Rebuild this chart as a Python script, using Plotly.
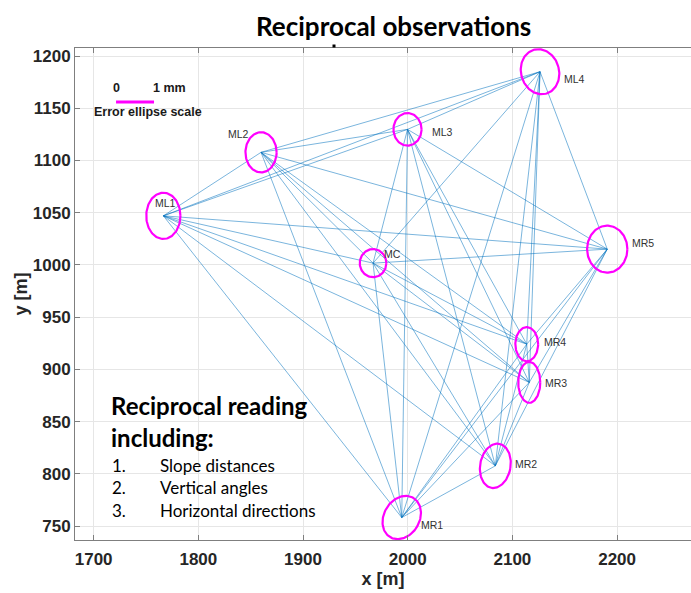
import numpy as np
import plotly.graph_objects as go

# Station coordinates [m]
STATIONS = ["ML1", "ML2", "ML3", "ML4", "MC", "MR5", "MR4", "MR3", "MR2", "MR1"]
EAST = [1766.6, 1859.9, 1999.8, 2126.4, 1966.9, 2190.6, 2113.7, 2116.1, 2083.7, 1994.3]
NORTH = [1047.0, 1107.8, 1129.8, 1185.0, 1001.7, 1015.1, 924.1, 887.5, 807.6, 758.1]

# Error ellipses: semi-axes [mm] and rotation [deg, counter-clockwise]
SEMI_A = [0.45, 0.41, 0.37, 0.50, 0.35, 0.53, 0.30, 0.29, 0.40, 0.47]
SEMI_B = [0.61, 0.53, 0.43, 0.60, 0.37, 0.62, 0.45, 0.54, 0.59, 0.60]
ROT_DEG = [0, 0, 0, 15, 0, 0, 0, 0, -10, -30]
ELLIPSE_SCALE = 36.3  # metres of plot per mm of error

# Reciprocal observation pairs
OBS_FROM = ["ML1"] * 9 + ["ML2"] * 8 + ["ML3"] * 7 + ["ML4"] * 6 + ["MC"] * 5 + ["MR5"] * 4 + ["MR4"] * 3 + ["MR3"] * 2 + ["MR2"]
OBS_TO = (["ML2", "ML3", "ML4", "MC", "MR5", "MR4", "MR3", "MR2", "MR1"]
          + ["ML3", "ML4", "MC", "MR5", "MR4", "MR3", "MR2", "MR1"]
          + ["ML4", "MC", "MR5", "MR4", "MR3", "MR2", "MR1"]
          + ["MC", "MR5", "MR4", "MR3", "MR2", "MR1"]
          + ["MR5", "MR4", "MR3", "MR2", "MR1"]
          + ["MR4", "MR3", "MR2", "MR1"]
          + ["MR3", "MR2", "MR1"]
          + ["MR2", "MR1"]
          + ["MR1"])

X_TICKS = [1700, 1800, 1900, 2000, 2100, 2200]
Y_TICKS = [750, 800, 850, 900, 950, 1000, 1050, 1100, 1150, 1200]

# label offsets in pixels (right, up)
LABEL_DX = [2, -23, 35, 34, 19, 36, 28, 27, 31, 30]
LABEL_DY = [13, 18, -3, -7, 9, 6, 2, -1, 2, -7]

W, H = 691, 593
ML, MR, MT, MB = 75, 0, 48, 53
X_RANGE = [1682.2, 2270.6]
Y_RANGE = [736.6, 1207.7]


def px(x):
    return (x - ML) / (W - ML - MR)


def py(y):
    return (H - MB - y) / (H - MT - MB)


idx = {s: i for i, s in enumerate(STATIONS)}

fig = go.Figure()

# observation lines
lx, ly = [], []
for a, b in zip(OBS_FROM, OBS_TO):
    i, j = idx[a], idx[b]
    lx += [EAST[i], EAST[j], None]
    ly += [NORTH[i], NORTH[j], None]
fig.add_trace(go.Scatter(x=lx, y=ly, mode="lines",
                         line=dict(color="rgba(0,114,189,0.75)", width=0.7),
                         hoverinfo="skip", showlegend=False))

# error ellipses
t = np.linspace(0, 2 * np.pi, 120)
for i in range(len(STATIONS)):
    th = np.deg2rad(ROT_DEG[i])
    a = SEMI_A[i] * ELLIPSE_SCALE
    b = SEMI_B[i] * ELLIPSE_SCALE
    ex = EAST[i] + a * np.cos(t) * np.cos(th) - b * np.sin(t) * np.sin(th)
    ey = NORTH[i] + a * np.cos(t) * np.sin(th) + b * np.sin(t) * np.cos(th)
    fig.add_trace(go.Scatter(x=ex, y=ey, mode="lines",
                             line=dict(color="#ff00ff", width=2.2),
                             hoverinfo="skip", showlegend=False))

# station names
for i, s in enumerate(STATIONS):
    fig.add_annotation(x=EAST[i], y=NORTH[i], text=s, showarrow=False,
                       xshift=LABEL_DX[i], yshift=LABEL_DY[i],
                       font=dict(family="Liberation Sans, Arial", size=10.5, color="#333333"))

# error ellipse scale bar (1 mm)
bar_x0, bar_y = 1721.4, 1155.9
fig.add_trace(go.Scatter(x=[bar_x0, bar_x0 + 1.0 * ELLIPSE_SCALE], y=[bar_y, bar_y],
                         mode="lines", line=dict(color="#ff00ff", width=3),
                         hoverinfo="skip", showlegend=False))

bold_small = dict(family="Liberation Sans, Arial", size=12.5, color="#1a1a1a")
fig.add_annotation(xref="paper", yref="paper", x=px(116.7), y=py(88), text="<b>0</b>",
                   showarrow=False, xanchor="center", yanchor="middle", font=bold_small)
fig.add_annotation(xref="paper", yref="paper", x=px(151), y=py(88), text="<b>1 mm</b>",
                   showarrow=False, xanchor="left", yanchor="middle", font=bold_small)
fig.add_annotation(xref="paper", yref="paper", x=px(92), y=py(112), text="<b>Error ellipse scale</b>",
                   showarrow=False, xanchor="left", yanchor="middle", font=bold_small)

# description text
head = dict(family="Lato, Open Sans", size=24, color="black")
body = dict(family="Lato, Open Sans", size=17, color="black")
fig.add_annotation(xref="paper", yref="paper", x=px(109), y=py(405), text="<b>Reciprocal reading</b>",
                   showarrow=False, xanchor="left", yanchor="middle", font=head)
fig.add_annotation(xref="paper", yref="paper", x=px(109), y=py(437), text="<b>including:</b>",
                   showarrow=False, xanchor="left", yanchor="middle", font=head)
ITEMS = ["Slope distances", "Vertical angles", "Horizontal directions"]
ITEM_Y = [465, 487.5, 510]
for k, (txt, yy) in enumerate(zip(ITEMS, ITEM_Y)):
    fig.add_annotation(xref="paper", yref="paper", x=px(110), y=py(yy), text=f"{k + 1}.",
                       showarrow=False, xanchor="left", yanchor="middle", font=body)
    fig.add_annotation(xref="paper", yref="paper", x=px(158), y=py(yy), text=txt,
                       showarrow=False, xanchor="left", yanchor="middle", font=body)

# title
fig.add_annotation(xref="paper", yref="paper", x=px(393), y=py(26), text="<b>Reciprocal observations</b>",
                   showarrow=False, xanchor="center", yanchor="middle",
                   font=dict(family="Lato, Open Sans", size=26, color="black"))
fig.add_shape(type="rect", xref="paper", yref="paper",
              x0=px(332.5), x1=px(335.5), y0=py(47.5), y1=py(44.5),
              fillcolor="black", line=dict(width=0))

axis_font = dict(family="Liberation Sans, Arial", size=17, color="#262626")
fig.update_xaxes(range=X_RANGE, tickvals=X_TICKS, ticktext=[f"<b>{v}</b>" for v in X_TICKS],
                 showgrid=True, gridcolor="#e6e6e6", gridwidth=1, zeroline=False,
                 showline=True, linecolor="#7f7f7f", linewidth=1, mirror="ticks",
                 ticks="inside", ticklen=5, tickcolor="#7f7f7f",
                 tickfont=axis_font, ticklabelstandoff=4,
                 title=dict(text="<b>x [m]</b>", font=dict(family="Liberation Sans, Arial", size=18, color="#262626"),
                            standoff=3))
fig.update_yaxes(range=Y_RANGE, tickvals=Y_TICKS, ticktext=[f"<b>{v}</b>" for v in Y_TICKS],
                 showgrid=True, gridcolor="#e6e6e6", gridwidth=1, zeroline=False,
                 showline=True, linecolor="#7f7f7f", linewidth=1, mirror=False,
                 ticks="inside", ticklen=5, tickcolor="#7f7f7f",
                 tickfont=axis_font,
                 title=dict(text="<b>y [m]</b>", font=dict(family="Liberation Sans, Arial", size=18, color="#262626"),
                            standoff=0))

fig.update_layout(width=W, height=H, margin=dict(l=ML, r=MR, t=MT, b=MB),
                  plot_bgcolor="white", paper_bgcolor="white", showlegend=False)

fig.write_html("out.html")
